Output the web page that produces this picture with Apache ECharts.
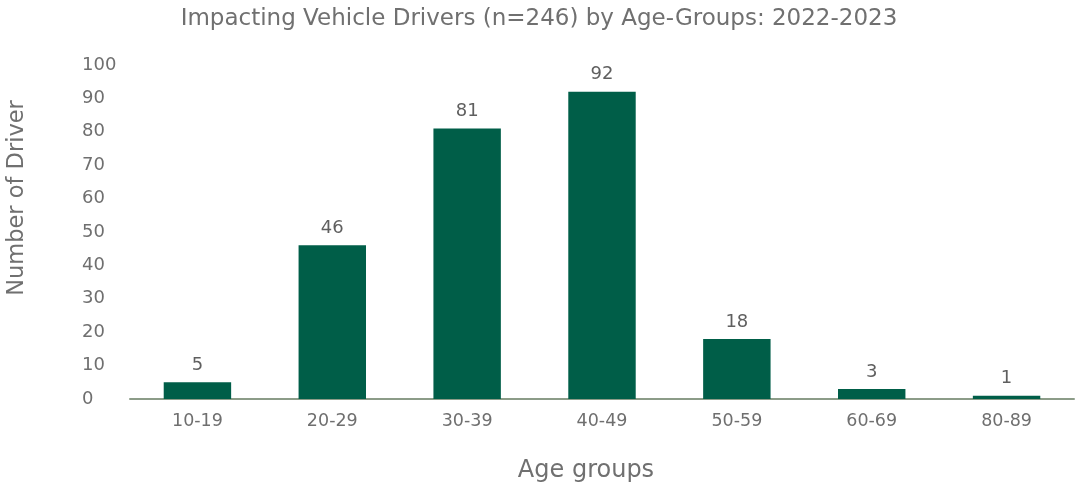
<!DOCTYPE html>
<html><head><meta charset="utf-8">
<script src="https://cdn.jsdelivr.net/npm/echarts@6/dist/echarts.min.js"></script>
<style>html,body{margin:0;padding:0;background:#fff}#c{width:1078px;height:488px}</style>
</head><body><div id="c"></div>
<script>
const categories = ["10-19","20-29","30-39","40-49","50-59","60-69","80-89"];
const drivers = [5,46,81,92,18,3,1];
const titleText = "Impacting Vehicle Drivers (n=246) by Age-Groups: 2022-2023";
const xName = "Age groups";
const yName = "Number of Driver";

const chart = echarts.init(document.getElementById('c'));
const font = "'DejaVu Sans', sans-serif";
chart.setOption({
  animation:false,
  title:{text:titleText,left:'center',top:3,textStyle:{fontFamily:font,fontWeight:'normal',fontSize:23,color:'#707070'}},
  grid:{left:130,right:4,top:65,bottom:89,containLabel:false,outerBoundsMode:'none'},
  xAxis:{type:'category',data:categories,
    axisLine:{lineStyle:{color:'#8c9c88',width:2}},axisTick:{show:false},
    axisLabel:{fontFamily:font,fontSize:17.5,color:'#6f6f6f',margin:13},
    name:xName,nameLocation:'middle',nameGap:60,
    nameTextStyle:{fontFamily:font,fontSize:24,color:'#707070',padding:[0,32,0,0]}},
  yAxis:{type:'value',min:0,max:100,interval:10,
    splitLine:{show:false},axisLine:{show:false},axisTick:{show:false},
    axisLabel:{fontFamily:font,fontSize:18,color:'#6f6f6f',align:'left',margin:48},
    name:yName,nameLocation:'middle',nameGap:101,nameRotate:90,
    nameTextStyle:{fontFamily:font,fontSize:22.5,color:'#707070',padding:[0,0,0,68]}},
  series:[{type:'bar',data:drivers,barWidth:'50%',itemStyle:{color:'#005e48'},
    label:{show:true,position:'top',distance:8,fontFamily:font,fontSize:18,color:'#5f5f5f'}}]
});
</script></body></html>
